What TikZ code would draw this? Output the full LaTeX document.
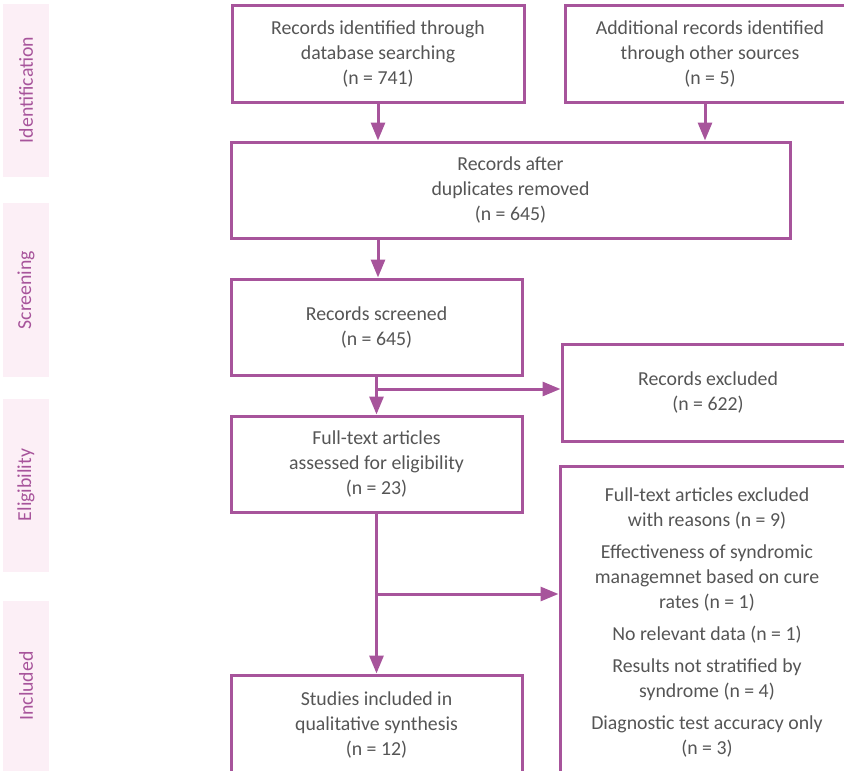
\documentclass[tikz,border=0pt]{standalone}
\usepackage{fontspec}
\setmainfont{Carlito}
\definecolor{prisma}{HTML}{A7549B}
\definecolor{band}{HTML}{FCEFF6}
\definecolor{txtgray}{HTML}{555555}
\usepackage{tikz}
\usetikzlibrary{calc, positioning, arrows.meta}

\begin{document}
\begin{tikzpicture}[x=1pt, y=-1pt,
  flowbox/.style={draw=prisma, line width=3pt, rectangle, align=center,
    text=txtgray, font=\fontsize{19.8}{25}\selectfont, inner sep=0pt},
  flowarr/.style={draw=prisma, line width=3pt, -{Triangle[length=18pt, width=14pt]}},
  phaselabel/.style={rotate=90, text=prisma, font=\fontsize{19.8}{20}\selectfont}]
  \useasboundingbox (0,0) rectangle (844,771);
  \clip (0,0) rectangle (844,771);
  % phase bands down the left side
  \foreach \top/\bot/\mid/\name in {4/177/90/Identification, 203/377/290/Screening,
    399/572/485/Eligibility, 601/790/686/Included} {
    \fill[band] (3,\top) rectangle (49,\bot);
    \node[phaselabel] at (26,\mid) {\name};
  }
  % boxes
  \node[flowbox, minimum width=292pt, minimum height=97pt] (db) at (378,53.5)
    {Records identified through\\database searching\\(n = 741)};
  \node[flowbox, minimum width=290pt, minimum height=97pt] (other) at (710,53.5)
    {Additional records identified\\through other sources\\(n = 5)};
  \node[flowbox, minimum width=559pt, minimum height=96pt] (dup) at (510.5,190)
    {Records after\\duplicates removed\\(n = 645)};
  \node[flowbox, minimum width=291pt, minimum height=96pt] (screened) at (376.5,327)
    {Records screened\\(n = 645)};
  \node[flowbox, minimum width=292pt, minimum height=97pt] (excl) at (708,392.5)
    {Records excluded\\(n = 622)};
  \node[flowbox, minimum width=291pt, minimum height=96pt] (fulltext) at (376.5,464)
    {Full-text articles\\assessed for eligibility\\(n = 23)};
  \node[flowbox, minimum width=294pt, minimum height=312pt] (reasons) at (707,622)
    {Full-text articles excluded\\with reasons (n = 9)\\[7pt]
     Effectiveness of syndromic\\managemnet based on cure\\rates (n = 1)\\[7pt]
     No relevant data (n = 1)\\[7pt]
     Results not stratified by\\syndrome (n = 4)\\[7pt]
     Diagnostic test accuracy only\\(n = 3)};
  \node[flowbox, minimum width=291pt, minimum height=100pt] (incl) at (376.5,725)
    {Studies included in\\qualitative synthesis\\(n = 12)};
  % connectors
  \draw[flowarr] (db.south) -- (db.south |- dup.north);
  \coordinate (a2) at (705,102);
  \draw[flowarr] (a2) -- (a2 |- dup.north);
  \draw[flowarr] (db.south |- dup.south) -- (db.south |- screened.north);
  \draw[flowarr] (screened.south) -- (fulltext.north);
  \coordinate (b1) at (376.5,389);
  \draw[flowarr] (b1) -- (b1 -| excl.west);
  \draw[flowarr] (fulltext.south) -- (incl.north);
  \coordinate (b2) at (376.5,594);
  \draw[flowarr] (b2) -- (b2 -| reasons.west);
\end{tikzpicture}
\end{document}
